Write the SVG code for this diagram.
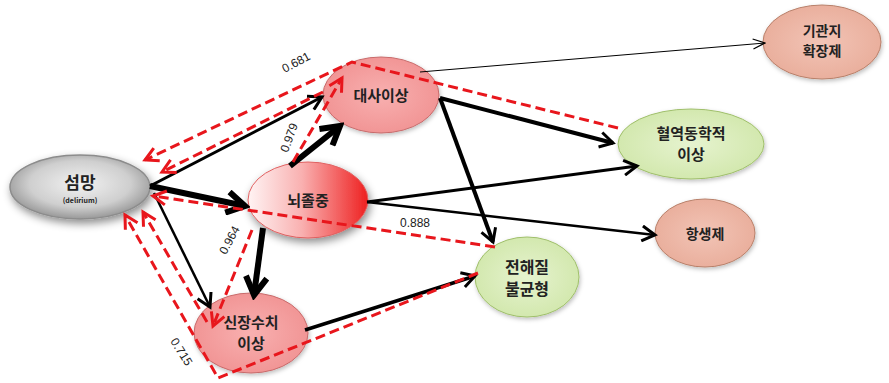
<svg xmlns="http://www.w3.org/2000/svg" width="889" height="383" viewBox="0 0 889 383">
<style>
.t{font-family:"Noto Sans CJK KR","Noto Sans",sans-serif;font-weight:bold;fill:#222;text-anchor:middle}
.n{font-family:"Liberation Sans",Arial,sans-serif;font-size:12px;fill:#222;text-anchor:middle}
.pink{fill:url(#gPink);stroke:#c86a6a;stroke-width:1}
.tan{fill:url(#gTan);stroke:#b8806a;stroke-width:1}
.green{fill:url(#gGreen);stroke:#9fbf6a;stroke-width:1}
.k{fill:none;stroke:#000;stroke-linecap:butt}
.r{fill:none;stroke:#e8161c;stroke-width:3;stroke-dasharray:10 5}
</style>
<defs>
<radialGradient id="gGray" cx="50%" cy="45%" r="60%">
<stop offset="0" stop-color="#f2f2f2"/><stop offset="0.6" stop-color="#cfcfcf"/><stop offset="1" stop-color="#8a8a8a"/>
</radialGradient>
<linearGradient id="gRed" x1="0" y1="0" x2="1" y2="0">
<stop offset="0" stop-color="#fff4f4"/><stop offset="0.45" stop-color="#f9b0b0"/><stop offset="1" stop-color="#ee2020"/>
</linearGradient>
<radialGradient id="gPink" cx="50%" cy="50%" r="60%">
<stop offset="0" stop-color="#f8b0b0"/><stop offset="1" stop-color="#f09090"/>
</radialGradient>
<radialGradient id="gTan" cx="50%" cy="50%" r="60%">
<stop offset="0" stop-color="#f2c4b6"/><stop offset="1" stop-color="#e8ab98"/>
</radialGradient>
<radialGradient id="gGreen" cx="50%" cy="50%" r="60%">
<stop offset="0" stop-color="#e6f3cf"/><stop offset="1" stop-color="#cfe6a8"/>
</radialGradient>
<filter id="sh" x="-30%" y="-30%" width="160%" height="170%">
<feDropShadow dx="2" dy="4" stdDeviation="4" flood-color="#000" flood-opacity="0.45"/>
</filter>
<filter id="sh2" x="-20%" y="-20%" width="140%" height="150%">
<feDropShadow dx="1" dy="2" stdDeviation="2" flood-color="#000" flood-opacity="0.25"/>
</filter>
<marker id="aThin" markerUnits="userSpaceOnUse" viewBox="0 0 14 12" markerWidth="14" markerHeight="12" refX="13" refY="6" orient="auto">
<path d="M1,1 L13,6 L1,11" fill="none" stroke="#000" stroke-width="1.2"/>
</marker>
<marker id="aMed" markerUnits="userSpaceOnUse" viewBox="0 0 18 18" markerWidth="18" markerHeight="18" refX="15" refY="9" orient="auto">
<path d="M2,1.5 L15,9 L2,16.5" fill="none" stroke="#000" stroke-width="3"/>
</marker>
<marker id="aThick" markerUnits="userSpaceOnUse" viewBox="0 0 26 26" markerWidth="26" markerHeight="26" refX="21" refY="13" orient="auto">
<path d="M3,2.5 L21,13 L3,23.5" fill="none" stroke="#000" stroke-width="6"/>
</marker>
<marker id="aRed" markerUnits="userSpaceOnUse" viewBox="0 0 18 18" markerWidth="18" markerHeight="18" refX="15" refY="9" orient="auto">
<path d="M2,2 L15,9 L2,16" fill="none" stroke="#e8161c" stroke-width="3"/>
</marker>
</defs>
<rect width="889" height="383" fill="#fff"/>

<g id="n-delirium">
<ellipse cx="80" cy="187" rx="70" ry="32" fill="url(#gGray)" stroke="#8c8c8c" stroke-width="1.5" filter="url(#sh)"/>
<text class="t" x="80" y="189" font-size="17">섬망</text>
<text class="t" x="80" y="203" font-size="7">(delirium)</text>
</g>
<g id="n-stroke">
<ellipse cx="308" cy="200" rx="60" ry="38" fill="url(#gRed)" stroke="#e06060" stroke-width="1" filter="url(#sh)"/>
<text class="t" x="308" y="206" font-size="15">뇌졸중</text>
</g>
<g id="n-metabolic">
<ellipse cx="381" cy="95" rx="58" ry="38" class="pink" filter="url(#sh2)"/>
<text class="t" x="381" y="101" font-size="15">대사이상</text>
</g>
<g id="n-broncho">
<ellipse cx="822" cy="42" rx="59" ry="37" class="tan" filter="url(#sh2)"/>
<text class="t" x="822" y="36" font-size="14">기관지</text>
<text class="t" x="822" y="56" font-size="14">확장제</text>
</g>
<g id="n-hemo">
<ellipse cx="691" cy="144" rx="73" ry="35" class="green" filter="url(#sh2)"/>
<text class="t" x="691" y="139" font-size="15">혈역동학적</text>
<text class="t" x="691" y="160" font-size="15">이상</text>
</g>
<g id="n-antibiotic">
<ellipse cx="705" cy="233" rx="50" ry="34" class="tan" filter="url(#sh2)"/>
<text class="t" x="705" y="239" font-size="14">항생제</text>
</g>
<g id="n-electrolyte">
<ellipse cx="527" cy="277" rx="52" ry="40" class="green" filter="url(#sh2)"/>
<text class="t" x="527" y="273" font-size="16">전해질</text>
<text class="t" x="527" y="295" font-size="16">불균형</text>
</g>
<g id="n-renal">
<ellipse cx="251" cy="333" rx="57" ry="40" class="pink" filter="url(#sh2)"/>
<text class="t" x="251" y="328" font-size="15">신장수치</text>
<text class="t" x="251" y="349" font-size="15">이상</text>
</g>

<g id="connectors">
<path class="k" d="M150,186 L322,97" stroke-width="3" marker-end="url(#aMed)"/>
<path class="k" d="M150,186 L245,206" stroke-width="6" marker-end="url(#aThick)"/>
<path class="k" d="M154,193 L210,307" stroke-width="2.5" marker-end="url(#aMed)"/>
<path class="k" d="M290,166 L340,126" stroke-width="6" marker-end="url(#aThick)"/>
<path class="k" d="M263,228 L254,295" stroke-width="6" marker-end="url(#aThick)"/>
<path class="k" d="M440,98 L613,143" stroke-width="4" marker-end="url(#aMed)"/>
<path class="k" d="M440,98 L493,242" stroke-width="4" marker-end="url(#aMed)"/>
<path class="k" d="M420,72 L765,43" stroke-width="1" marker-end="url(#aThin)"/>
<path class="k" d="M367,202 L637,166" stroke-width="3" marker-end="url(#aMed)"/>
<path class="k" d="M367,202 L655,235" stroke-width="2.5" marker-end="url(#aMed)"/>
<path class="k" d="M305,330 L475,276" stroke-width="3.5" marker-end="url(#aMed)"/>

<path class="r" d="M618,128 L352,62 L145,160" marker-end="url(#aRed)"/>
<path class="r" d="M293,162 L342,78" marker-end="url(#aRed)"/>
<path class="r" d="M323,92 L162,172" marker-end="url(#aRed)"/>
<path class="r" d="M495,247 L153,196" marker-end="url(#aRed)"/>
<path class="r" d="M252,230 L213,326" marker-end="url(#aRed)"/>
<path class="r" d="M207,322 L143,212" marker-end="url(#aRed)"/>
<path class="r" d="M478,273 L218,378 L125,215" marker-end="url(#aRed)"/>

<text class="n" transform="translate(298,66) rotate(-28)">0.681</text>
<text class="n" transform="translate(293,139) rotate(-70)">0.979</text>
<text class="n" transform="translate(233,242) rotate(-62)">0.964</text>
<text class="n" x="415" y="227">0.888</text>
<text class="n" transform="translate(178,354) rotate(58)">0.715</text>
</g>
</svg>
